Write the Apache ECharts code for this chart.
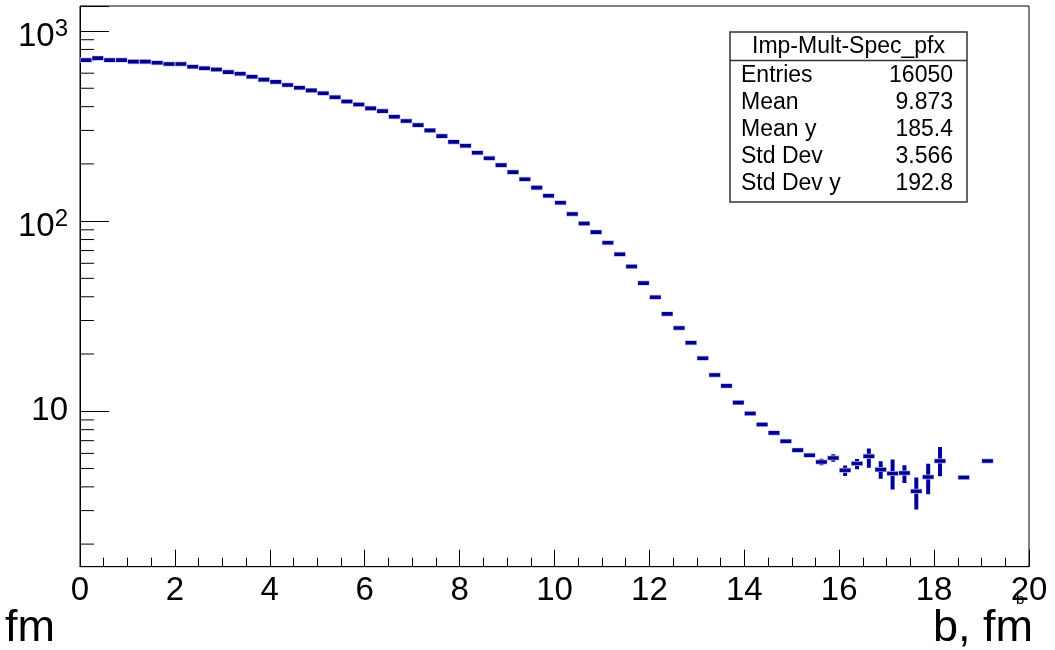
<!DOCTYPE html>
<html>
<head>
<meta charset="utf-8">
<title>Imp-Mult-Spec_pfx</title>
<script src="https://cdn.jsdelivr.net/npm/echarts@6/dist/echarts.min.js"></script>
<style>
  html, body { margin: 0; padding: 0; background: #fff; }
  #main { width: 1055px; height: 650px; }
</style>
</head>
<body>
<div id="main"></div>
<script>
// profile bins, 0.25 fm wide (empty bins 18.375 and 18.875 left out)
var binCenters = [
  0.125, 0.375, 0.625, 0.875, 1.125, 1.375, 1.625, 1.875, 2.125, 2.375,
  2.625, 2.875, 3.125, 3.375, 3.625, 3.875, 4.125, 4.375, 4.625, 4.875,
  5.125, 5.375, 5.625, 5.875, 6.125, 6.375, 6.625, 6.875, 7.125, 7.375,
  7.625, 7.875, 8.125, 8.375, 8.625, 8.875, 9.125, 9.375, 9.625, 9.875,
  10.125, 10.375, 10.625, 10.875, 11.125, 11.375, 11.625, 11.875, 12.125, 12.375,
  12.625, 12.875, 13.125, 13.375, 13.625, 13.875, 14.125, 14.375, 14.625, 14.875,
  15.125, 15.375, 15.625, 15.875, 16.125, 16.375, 16.625, 16.875, 17.125, 17.375,
  17.625, 17.875, 18.125, 18.625, 19.125
];
// mean multiplicity per bin
var meanMult = [
  703, 720, 703, 703, 690, 690, 681, 671, 671, 649,
  637, 627, 608, 596, 575, 555, 540, 520, 503, 487,
  471, 448, 426, 411, 392, 379, 354, 336, 320, 300,
  280, 261, 249, 229, 214, 197, 181, 166, 150, 136,
  125, 109, 97.2, 87.5, 76.9, 67.0, 57.7, 47.2, 39.8, 32.5,
  27.4, 22.9, 19.0, 15.5, 13.6, 11.1, 9.72, 8.51, 7.69, 6.95,
  6.24, 5.87, 5.41, 5.67, 4.89, 5.31, 5.80, 4.93, 4.70, 4.73,
  3.79, 4.51, 5.47, 4.48, 5.47
];
// bins whose error bars stick out of the marker
var errCenters = [15.625, 15.875, 16.125, 16.375, 16.625, 16.875, 17.125, 17.375, 17.625, 17.875, 18.125];
var errLow     = [5.20, 5.43, 4.56, 4.95, 5.05, 4.42, 3.87, 4.19, 3.04, 3.66, 4.55];
var errHigh    = [5.63, 5.94, 5.18, 5.61, 6.36, 5.46, 5.57, 5.20, 4.48, 5.30, 6.49];

var binHalfWidth = 0.125;
var yMinorTicks = [2, 3, 4, 5, 6, 7, 8, 9, 20, 30, 40, 50, 60, 70, 80, 90, 200, 300, 400, 500, 600, 700, 800, 900];

var statsTitle = "Imp-Mult-Spec_pfx";
var statsNames = ["Entries", "Mean", "Mean y", "Std Dev", "Std Dev y"];
var statsValues = ["16050", "9.873", "185.4", "3.566", "192.8"];

var FONT = "'Liberation Sans', Arial, Helvetica, sans-serif";
var BLUE = "#00009a";

var chart = echarts.init(document.getElementById("main"), null, { renderer: "canvas" });

// marker: horizontal bar over the bin + tiny dot at the centre
function renderBin(params, api) {
  var x = api.value(0), y = api.value(1);
  var p0 = api.coord([x - binHalfWidth, y]);
  var p1 = api.coord([x + binHalfWidth, y]);
  var c = api.coord([x, y]);
  return {
    type: "group",
    children: [
      { type: "line", shape: { x1: p0[0], y1: p0[1], x2: p1[0], y2: p1[1] },
        style: { stroke: "#b8b8e8", lineWidth: 5 } },
      { type: "line", shape: { x1: p0[0] + 0.5, y1: p0[1], x2: p1[0] - 0.5, y2: p1[1] },
        style: { stroke: BLUE, lineWidth: 3.6 } },
      { type: "rect", shape: { x: c[0] - 0.6, y: c[1] - 0.6, width: 1.2, height: 1.2 },
        style: { fill: "#000" } }
    ]
  };
}

function renderErr(params, api) {
  var x = api.value(0);
  var lo = api.coord([x, api.value(1)]);
  var hi = api.coord([x, api.value(2)]);
  return {
    type: "line",
    shape: { x1: lo[0], y1: lo[1], x2: hi[0], y2: hi[1] },
    style: { stroke: BLUE, lineWidth: 4 }
  };
}

// ROOT style minor ticks 2..9 on the log axis
function renderMinorTick(params, api) {
  var p = api.coord([0, api.value(1)]);
  return {
    type: "line",
    shape: { x1: p[0], y1: p[1], x2: p[0] + 14, y2: p[1] },
    style: { stroke: "#000", lineWidth: 1 }
  };
}

var binData = binCenters.map(function (x, i) { return [x, meanMult[i]]; });
var errData = errCenters.map(function (x, i) { return [x, errLow[i], errHigh[i]]; });
var minorData = yMinorTicks.map(function (v) { return [0, v]; });

// stats box
var boxX = 730, boxY = 32, boxW = 237, boxH = 170;
var statsChildren = [
  { type: "rect", shape: { x: 0, y: 0, width: boxW, height: boxH },
    style: { fill: "#fff", stroke: "#333", lineWidth: 1.5 } },
  { type: "line", shape: { x1: 0, y1: 28.5, x2: boxW, y2: 28.5 },
    style: { stroke: "#333", lineWidth: 1.5 } },
  { type: "text", x: boxW / 2, y: 15,
    style: { text: statsTitle, font: "23px " + FONT, fill: "#000", align: "center", verticalAlign: "middle" } }
];
statsNames.forEach(function (name, i) {
  var yy = 44 + i * 27;
  statsChildren.push({ type: "text", x: 11, y: yy,
    style: { text: name, font: "23px " + FONT, fill: "#000", align: "left", verticalAlign: "middle" } });
  statsChildren.push({ type: "text", x: 223, y: yy,
    style: { text: statsValues[i], font: "23px " + FONT, fill: "#000", align: "right", verticalAlign: "middle" } });
});

chart.setOption({
  animation: false,
  backgroundColor: "#fff",
  grid: {
    left: 80, right: 26, top: 6, bottom: 83.3,
    show: true, borderColor: "#000", borderWidth: 1
  },
  xAxis: {
    type: "value", min: 0, max: 20, interval: 2,
    axisLine: { show: true, onZero: false, lineStyle: { color: "#000", width: 1 } },
    axisTick: { show: true, inside: true, length: 17, lineStyle: { color: "#000" } },
    minorTick: { show: true, splitNumber: 4, length: 9, lineStyle: { color: "#000" } },
    splitLine: { show: false },
    axisLabel: { color: "#000", fontFamily: FONT, fontSize: 33, margin: 8 }
  },
  yAxis: {
    type: "log", logBase: 10, min: 1.521, max: 1354,
    axisLine: { show: true, lineStyle: { color: "#000", width: 1 } },
    axisTick: { show: true, inside: true, length: 29, lineStyle: { color: "#000" } },
    splitLine: { show: false },
    axisLabel: {
      color: "#000", fontFamily: FONT, fontSize: 33, margin: 12,
      formatter: function (v) {
        var e = Math.round(Math.log(v) / Math.LN10);
        if (Math.abs(v - Math.pow(10, e)) > 1e-6 * v) return "";
        if (e === 1) return "10";
        return "{b|10}{s|" + e + "}";
      },
      rich: {
        b: { fontSize: 33, fontFamily: FONT, color: "#000", padding: [11, 0, 0, 0] },
        s: { fontSize: 24, fontFamily: FONT, color: "#000", padding: [0, 0, 3, 0] }
      }
    }
  },
  series: [
    {
      type: "custom", name: "minor", silent: true, clip: false,
      renderItem: renderMinorTick, data: minorData, encode: { x: 0, y: 1 }, z: 1
    },
    {
      type: "custom", name: "err", renderItem: renderErr,
      data: errData, encode: { x: 0, y: [1, 2] }, clip: true, z: 3
    },
    {
      type: "custom", name: "Imp-Mult-Spec_pfx", renderItem: renderBin,
      data: binData, encode: { x: 0, y: 1 }, clip: true, z: 4
    }
  ],
  graphic: [
    { type: "group", x: boxX, y: boxY, z: 100, children: statsChildren },
    { type: "text", left: 5, top: 606,
      style: { text: "fm", font: "45px " + FONT, fill: "#000" } },
    { type: "text", right: 22, top: 606,
      style: { text: "b, fm", font: "45px " + FONT, fill: "#000" } },
    { type: "text", left: 1016, top: 592,
      style: { text: "b", font: "15px " + FONT, fill: "#000" } }
  ]
});
</script>
</body>
</html>
